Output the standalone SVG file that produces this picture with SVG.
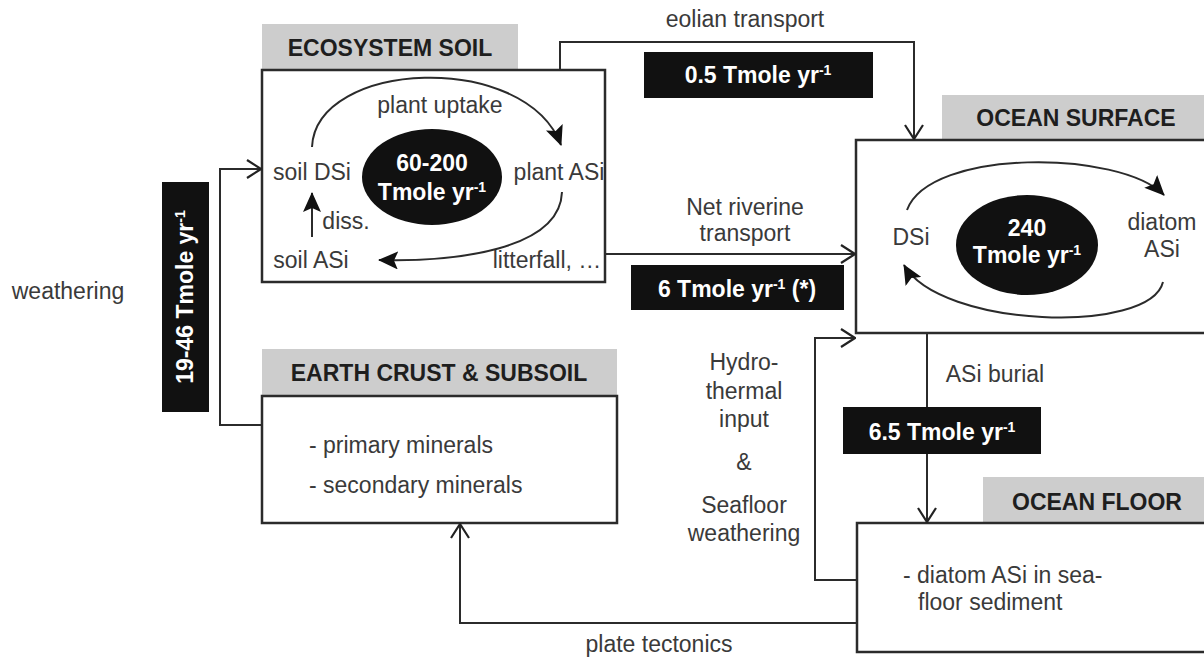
<svg xmlns="http://www.w3.org/2000/svg" width="1204" height="660" viewBox="0 0 1204 660">
<defs>
<style>
text { font-family: "Liberation Sans", Arial, sans-serif; font-size: 23px; fill: #3a3a3a; text-anchor: middle; }
.b { font-weight: bold; }
.w { fill: #ffffff; font-weight: bold; }
.hd { font-weight: bold; fill: #1e1e1e; }
.st { text-anchor: start; }
.sup { font-size: 14px; }
.box { fill: #ffffff; stroke: #2b2b2b; stroke-width: 2.5; }
.hdr { fill: #cdcdcd; }
.blk { fill: #111111; }
.c { fill: none; stroke: #2b2b2b; stroke-width: 2; }
</style>
<marker id="open" viewBox="0 0 16 20" refX="15" refY="10" markerWidth="16" markerHeight="20" orient="auto" markerUnits="userSpaceOnUse">
<path d="M1,1 L15,10 L1,19" fill="none" stroke="#222" stroke-width="2.2"/>
</marker>
<marker id="fill" viewBox="0 0 20 18" refX="19" refY="9" markerWidth="20" markerHeight="18" orient="auto" markerUnits="userSpaceOnUse">
<path d="M0,0 L20,9 L0,18 L4,9 z" fill="#111"/>
</marker>
</defs>
<rect width="1204" height="660" fill="#ffffff"/>

<g id="ecosystem-soil">
<rect class="hdr" x="262" y="24" width="256" height="46"/>
<text class="hd" x="390" y="56">ECOSYSTEM SOIL</text>
<rect class="box" x="262" y="70" width="343" height="212"/>
<ellipse class="blk" cx="432" cy="177" rx="70" ry="48"/>
<text class="w" x="432" y="171">60-200</text>
<text class="w" x="432" y="200">Tmole yr<tspan class="sup" dy="-8">-1</tspan></text>
<text x="440" y="113">plant uptake</text>
<text x="312" y="180">soil DSi</text>
<text x="559" y="180">plant ASi</text>
<text x="311" y="268">soil ASi</text>
<text x="547" y="268">litterfall, …</text>
<text x="346" y="229">diss.</text>
<path class="c" d="M312,237 V193" marker-end="url(#fill)"/>
<path class="c" d="M312,147 C316,60 525,50 561,145" marker-end="url(#fill)"/>
<path class="c" d="M562,192 C560,250 455,262 379,260" marker-end="url(#fill)"/>
</g>

<g id="ocean-surface">
<rect class="hdr" x="942" y="95" width="262" height="46"/>
<text class="hd" x="1076" y="126">OCEAN SURFACE</text>
<rect class="box" x="856" y="140" width="360" height="193"/>
<ellipse class="blk" cx="1027" cy="245" rx="71" ry="50"/>
<text class="w" x="1027" y="236">240</text>
<text class="w" x="1027" y="263">Tmole yr<tspan class="sup" dy="-8">-1</tspan></text>
<text x="911" y="245">DSi</text>
<text x="1162" y="230">diatom</text>
<text x="1162" y="257">ASi</text>
<path class="c" d="M907,210 C930,148 1120,150 1164,195" marker-end="url(#fill)"/>
<path class="c" d="M1163,282 C1150,335 940,328 904,265" marker-end="url(#fill)"/>
</g>

<g id="earth-crust">
<rect class="hdr" x="262" y="349" width="355" height="47"/>
<text class="hd" x="439" y="381">EARTH CRUST &amp; SUBSOIL</text>
<rect class="box" x="262" y="396" width="355" height="127"/>
<text class="st" x="309" y="453">- primary minerals</text>
<text class="st" x="309" y="493">- secondary minerals</text>
</g>

<g id="ocean-floor">
<rect class="hdr" x="983" y="477" width="221" height="46"/>
<text class="hd" x="1097" y="510">OCEAN FLOOR</text>
<rect class="box" x="857" y="523" width="360" height="129"/>
<text class="st" x="903" y="583">- diatom ASi in sea-</text>
<text class="st" x="918" y="610">floor sediment</text>
</g>

<g id="connectors">
<path class="c" d="M560,70 V42 H914 V139" marker-end="url(#open)"/>
<path class="c" d="M605,254 H855" marker-end="url(#open)"/>
<path class="c" d="M262,425 H220 V169 H261" marker-end="url(#open)"/>
<path class="c" d="M857,623 H460 V524" marker-end="url(#open)"/>
<path class="c" d="M857,580 H815 V338 H855" marker-end="url(#open)"/>
<path class="c" d="M927,334 V522" marker-end="url(#open)"/>
</g>

<g id="labels">
<text x="745" y="27">eolian transport</text>
<rect class="blk" x="644" y="52" width="229" height="46"/>
<text class="w" x="758" y="83">0.5 Tmole yr<tspan class="sup" dy="-8">-1</tspan></text>
<text x="745" y="215">Net  riverine</text>
<text x="745" y="241">transport</text>
<rect class="blk" x="631" y="265" width="213" height="45"/>
<text class="w" x="737" y="297">6 Tmole yr<tspan class="sup" dy="-8">-1</tspan><tspan dy="8"> (*)</tspan></text>
<text x="68" y="299">weathering</text>
<rect class="blk" x="162" y="182" width="47" height="230"/>
<text class="w" transform="translate(193,297) rotate(-90)" x="0" y="0">19-46 Tmole yr<tspan class="sup" dy="-8">-1</tspan></text>
<text x="744" y="370">Hydro-</text>
<text x="744" y="399">thermal</text>
<text x="744" y="427">input</text>
<text x="744" y="470">&amp;</text>
<text x="744" y="513">Seafloor</text>
<text x="744" y="541">weathering</text>
<text x="995" y="382">ASi burial</text>
<rect class="blk" x="843" y="407" width="198" height="47"/>
<text class="w" x="942" y="440">6.5 Tmole yr<tspan class="sup" dy="-8">-1</tspan></text>
<text x="659" y="652">plate tectonics</text>
</g>
</svg>
